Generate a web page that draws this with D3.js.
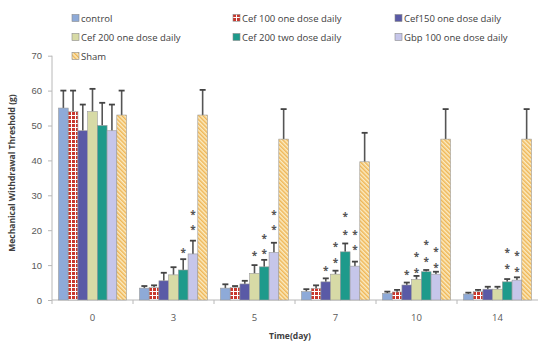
<!DOCTYPE html>
<html>
<head>
<meta charset="utf-8">
<script src="https://cdn.jsdelivr.net/npm/d3@7"></script>
<style>
  body { margin: 0; background: #fff; }
  svg { display: block; font-family: "Open Sans", sans-serif; }
</style>
</head>
<body>
<svg width="538" height="343"></svg>
<script>
// data
var days = ["0", "3", "5", "7", "10", "14"];
var seriesNames = ["control", "Cef 100 one dose daily", "Cef150 one dose daily",
    "Cef 200 one dose daily", "Cef 200 two dose daily", "Gbp 100 one dose daily", "Sham"];
var control   = [55, 3.4, 3.4, 2.4, 1.9, 1.7];
var cef100    = [54, 3.6, 3.6, 3.3, 2.3, 2.4];
var cef150    = [48.5, 5.5, 4.6, 5.2, 4.3, 3.1];
var cef200one = [54, 7.2, 7.6, 7.4, 5.9, 3.1];
var cef200two = [50, 8.6, 9.5, 13.8, 8.1, 5.2];
var gbp100    = [48.5, 13.2, 13.6, 9.7, 7.4, 5.7];
var sham      = [53, 53, 46.1, 39.6, 46.1, 46.1];
// error bars (upper only)
var controlErr   = [5, 0.6, 1.1, 0.7, 0.5, 0.4];
var cef100Err    = [6, 0.6, 0.4, 0.9, 0.6, 0.5];
var cef150Err    = [7.5, 2.3, 0.9, 1.0, 0.7, 0.7];
var cef200oneErr = [6.5, 2.2, 2.4, 1.0, 1.0, 0.7];
var cef200twoErr = [6.5, 3.1, 2.0, 2.4, 0.5, 0.8];
var gbp100Err    = [7.5, 3.8, 2.8, 1.3, 0.7, 0.8];
var shamErr      = [7, 7.2, 8.6, 8.3, 8.6, 8.6];
// significance marks: [day index, series index, y value]
var stars = [
    [1, 4, 14.3], [1, 5, 20.8], [1, 5, 25.2],
    [2, 3, 13.2], [2, 4, 13.8], [2, 4, 18.3], [2, 5, 20.7], [2, 5, 25.2],
    [3, 2, 9.0], [3, 3, 11.3], [3, 3, 15.8], [3, 4, 19.4], [3, 4, 24.4], [3, 5, 15.0], [3, 5, 19.4],
    [4, 2, 7.8], [4, 3, 8.4], [4, 3, 12.9], [4, 4, 11.7], [4, 4, 16.4], [4, 5, 10.0], [4, 5, 14.5],
    [5, 4, 9.7], [5, 4, 14.3], [5, 5, 8.6], [5, 5, 13.2]
];
var yTicks = [0, 10, 20, 30, 40, 50, 60, 70];

var means = [control, cef100, cef150, cef200one, cef200two, gbp100, sham];
var errs = [controlErr, cef100Err, cef150Err, cef200oneErr, cef200twoErr, gbp100Err, shamErr];

var svg = d3.select("svg");
var plotLeft = 52, plotRight = 538, plotTop = 55.7, plotBottom = 300;

var defs = svg.append("defs");
// checker for Cef 100
var chk = defs.append("pattern").attr("id", "checker")
    .attr("width", 4).attr("height", 4).attr("patternUnits", "userSpaceOnUse");
chk.append("rect").attr("width", 4).attr("height", 4).attr("fill", "#fff");
chk.append("rect").attr("width", 3).attr("height", 3).attr("fill", "#c8372d");
// diagonal stripes for Sham
var stp = defs.append("pattern").attr("id", "stripes")
    .attr("width", 3).attr("height", 3).attr("patternUnits", "userSpaceOnUse")
    .attr("patternTransform", "rotate(-45)");
stp.append("rect").attr("width", 3).attr("height", 3).attr("fill", "#fbecc4");
stp.append("rect").attr("width", 1.5).attr("height", 3).attr("fill", "#efb656");

var fills = ["#8eaad8", "url(#checker)", "#5a5aa6", "#d7daa6", "#1e9a8b", "#c6c6ea", "url(#stripes)"];

var x = d3.scaleBand().domain(days).range([plotLeft, plotRight]).padding(0);
var xi = d3.scaleBand().domain(d3.range(7)).range([6.5, x.bandwidth() - 6.5]).padding(0);
var y = d3.scaleLinear().domain([0, 70]).range([plotBottom, plotTop]);

// y axis
var yAxis = svg.append("g").attr("transform", "translate(" + plotLeft + ",0)")
    .call(d3.axisLeft(y).tickValues(yTicks).tickSize(4).tickPadding(6));
yAxis.select(".domain").attr("stroke", "#b8b8b8").attr("d", "M0," + y(70) + "V" + plotBottom);
yAxis.selectAll(".tick line").attr("stroke", "#b8b8b8");
yAxis.selectAll("text").attr("fill", "#595959").style("font-size", "9.5px");

// x axis with ticks at category boundaries
var xAxis = svg.append("g").attr("transform", "translate(0," + plotBottom + ")");
xAxis.append("line").attr("x1", plotLeft).attr("x2", plotRight).attr("stroke", "#b8b8b8");
xAxis.selectAll(".bt").data(days).enter().append("line")
    .attr("x1", function(d) { return x(d); }).attr("x2", function(d) { return x(d); })
    .attr("y1", 0).attr("y2", 4).attr("stroke", "#b8b8b8");
xAxis.selectAll(".lb").data(days).enter().append("text")
    .attr("x", function(d) { return x(d) + x.bandwidth() / 2; })
    .attr("y", 21).attr("text-anchor", "middle")
    .attr("fill", "#595959").style("font-size", "9.5px").text(function(d) { return d; });

// bars
var groups = svg.selectAll(".grp").data(days).enter().append("g")
    .attr("transform", function(d) { return "translate(" + x(d) + ",0)"; });
groups.each(function(d, di) {
    var g = d3.select(this);
    for (var s = 0; s < 7; s++) {
        var v = means[s][di], e = errs[s][di];
        var cx = xi(s) + xi.bandwidth() / 2;
        g.append("line").attr("x1", cx).attr("x2", cx)
            .attr("y1", y(v)).attr("y2", y(v + e))
            .attr("stroke", "#555").attr("stroke-width", 1.6);
        g.append("line").attr("x1", cx - 3).attr("x2", cx + 3)
            .attr("y1", y(v + e)).attr("y2", y(v + e))
            .attr("stroke", "#444").attr("stroke-width", 1.8);
        g.append("rect").attr("x", xi(s)).attr("width", xi.bandwidth())
            .attr("y", y(v)).attr("height", plotBottom - y(v))
            .attr("fill", fills[s]).attr("stroke", "#9a9a9a").attr("stroke-width", 0.6);
    }
});

// significance marks
svg.selectAll(".star").data(stars).enter().append("text")
    .attr("x", function(d) { return x(days[d[0]]) + xi(d[1]) + xi.bandwidth() / 2; })
    .attr("y", function(d) { return y(d[2]) + 5.5; })
    .attr("text-anchor", "middle").attr("fill", "#555")
    .style("font-size", "10px").style("font-weight", "bold").text("*");

// axis titles
svg.append("text").attr("transform", "translate(15,173) rotate(-90)")
    .attr("text-anchor", "middle").attr("fill", "#404040")
    .style("font-size", "8.5px").style("font-weight", "bold")
    .text("Mechanical Withdrawal Threshold (g)");
svg.append("text").attr("x", 290).attr("y", 339).attr("text-anchor", "middle")
    .attr("fill", "#404040").style("font-size", "8.5px").style("font-weight", "bold")
    .text("Time(day)");

// legend
var legX = [72, 233, 395];
var legY = [18, 37, 56];
var leg = svg.selectAll(".leg").data(seriesNames).enter().append("g")
    .attr("transform", function(d, i) { return "translate(" + legX[i % 3] + "," + legY[Math.floor(i / 3)] + ")"; });
leg.append("rect").attr("x", 0).attr("y", -3.5).attr("width", 7).attr("height", 7)
    .attr("fill", function(d, i) { return fills[i]; })
    .attr("stroke", "#8a8a8a").attr("stroke-width", 0.6);
leg.append("text").attr("x", 9).attr("y", 3.5).attr("fill", "#404040")
    .style("font-size", "9.5px").text(function(d) { return d; });
</script>
</body>
</html>
